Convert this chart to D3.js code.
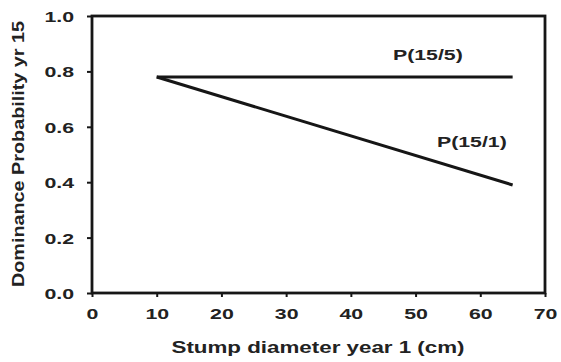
<!DOCTYPE html>
<html>
<head>
<meta charset="utf-8">
<script src="https://cdn.jsdelivr.net/npm/d3@7"></script>
<style>
  html, body { margin: 0; padding: 0; background: #fff; }
  svg { display: block; }
  text { font-family: "Liberation Sans", Arial, sans-serif; font-weight: bold; fill: #222; }
</style>
</head>
<body>
<svg id="chart" width="561" height="362"></svg>
<script>
// Stump diameter (cm) at the ends of each fitted line
const diameters = [10, 65];
// Dominance probability in year 15, conditional on dominance in year 5
const probGiven5 = [0.78, 0.78];
// Dominance probability in year 15, conditional on dominance in year 1
const probGiven1 = [0.78, 0.39];
const xTicks = [0, 10, 20, 30, 40, 50, 60, 70];
const yTicks = [0, 0.2, 0.4, 0.6, 0.8, 1.0];
const seriesNames = ["P(15/5)", "P(15/1)"];

const svg = d3.select("#chart");
const plotL = 92, plotR = 545, plotT = 16, plotB = 293;

const x = d3.scaleLinear().domain([0, 70]).range([plotL, plotR]);
const y = d3.scaleLinear().domain([0, 1]).range([plotB, plotT]);

const ink = "#161616";
const sx = 1.42; // horizontal stretch of the glyphs

// frame
svg.append("rect")
  .attr("x", plotL).attr("y", plotT)
  .attr("width", plotR - plotL).attr("height", plotB - plotT)
  .attr("fill", "none").attr("stroke", ink).attr("stroke-width", 2.8);

// x axis
const xAxis = svg.append("g")
  .attr("transform", `translate(0,${plotB})`)
  .call(d3.axisBottom(x).tickValues(xTicks).tickSize(4).tickFormat(d3.format("d")));
xAxis.select(".domain").remove();
xAxis.selectAll(".tick line").attr("stroke", ink).attr("stroke-width", 2);
xAxis.selectAll(".tick text")
  .attr("y", 0).attr("dy", 0)
  .attr("font-size", 15)
  .attr("transform", `translate(0,26) scale(${sx},1)`);

// y axis
const yAxis = svg.append("g")
  .attr("transform", `translate(${plotL},0)`)
  .call(d3.axisLeft(y).tickValues(yTicks).tickSize(5).tickFormat(d3.format(".1f")));
yAxis.select(".domain").remove();
yAxis.selectAll(".tick line").attr("stroke", ink).attr("stroke-width", 2);
yAxis.selectAll(".tick text")
  .attr("x", 0).attr("dy", "0.36em")
  .attr("font-size", 15)
  .attr("transform", `translate(-18,0) scale(${sx},1)`);

// series lines
const line = d3.line().x(d => x(d[0])).y(d => y(d[1]));
[probGiven5, probGiven1].forEach(vals => {
  svg.append("path")
    .datum(diameters.map((d, i) => [d, vals[i]]))
    .attr("d", line)
    .attr("fill", "none")
    .attr("stroke", ink)
    .attr("stroke-width", 3);
});

// series labels
const labelPos = [[51.9, 0.84], [58.7, 0.528]];
seriesNames.forEach((name, i) => {
  svg.append("text")
    .attr("text-anchor", "middle")
    .attr("font-size", 15)
    .attr("transform", `translate(${x(labelPos[i][0])},${y(labelPos[i][1])}) scale(${sx},1)`)
    .text(name);
});

// axis titles
svg.append("text")
  .attr("x", 318).attr("y", 353)
  .attr("text-anchor", "middle")
  .attr("font-size", 17)
  .attr("textLength", 293).attr("lengthAdjust", "spacingAndGlyphs")
  .text("Stump diameter year 1 (cm)");

svg.append("text")
  .attr("transform", "translate(24,154) rotate(-90)")
  .attr("text-anchor", "middle")
  .attr("font-size", 16)
  .attr("textLength", 266).attr("lengthAdjust", "spacingAndGlyphs")
  .text("Dominance Probability yr 15");
</script>
</body>
</html>
